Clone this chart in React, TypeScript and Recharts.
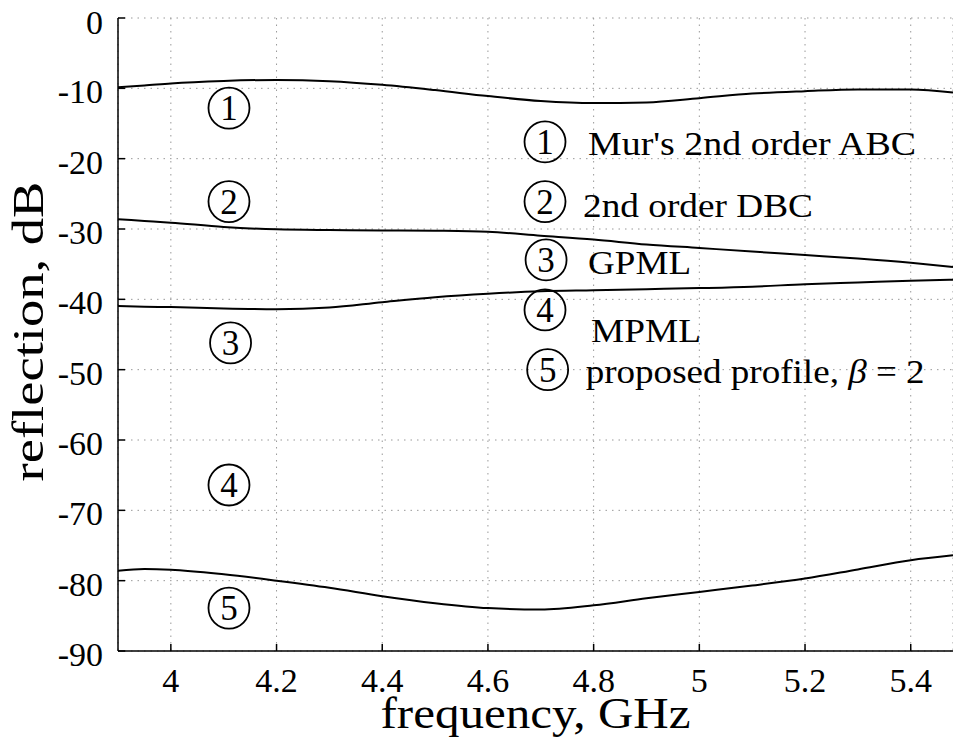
import React from 'react';
import {
  LineChart,
  Line,
  XAxis,
  YAxis,
  CartesianGrid,
  ReferenceDot,
} from 'recharts';

// Frequency samples (GHz) shared by all curves
const freqGHz = [3.9, 3.95, 4.0, 4.1, 4.2, 4.3, 4.4, 4.5, 4.6, 4.7, 4.8, 4.9, 5.0, 5.1, 5.2, 5.3, 5.4, 5.48];

// Reflection (dB) for each boundary condition
const murABC = [-9.85, -9.6, -9.3, -8.95, -8.8, -8.98, -9.5, -10.25, -11.1, -11.8, -12.1, -12.0, -11.4, -10.75, -10.4, -10.15, -10.15, -10.6];
const dbc2nd = [-28.6, -28.85, -29.1, -29.7, -30.05, -30.15, -30.2, -30.25, -30.4, -30.95, -31.5, -32.2, -32.7, -33.2, -33.7, -34.2, -34.8, -35.4];
const gpml = [-40.95, -41.05, -41.1, -41.3, -41.4, -41.15, -40.4, -39.7, -39.2, -38.85, -38.7, -38.55, -38.4, -38.2, -37.85, -37.6, -37.35, -37.2];
const proposed = [-78.6, -78.35, -78.45, -79.1, -80.0, -81.0, -82.2, -83.2, -83.9, -84.1, -83.5, -82.5, -81.6, -80.7, -79.7, -78.4, -77.1, -76.4];

// Axis ticks
const xTicks = [4, 4.2, 4.4, 4.6, 4.8, 5, 5.2, 5.4];
const yTicks = [-90, -80, -70, -60, -50, -40, -30, -20, -10, 0];

// Curve tags (circled numbers placed next to each curve), in data units
const curveTags = [
  { n: '1', f: 4.11, db: -12.8 },
  { n: '2', f: 4.11, db: -26.1 },
  { n: '3', f: 4.113, db: -46.2 },
  { n: '4', f: 4.11, db: -66.4 },
  { n: '5', f: 4.11, db: -83.9 },
];

// Key entries
const keyNumbers = ['1', '2', '3', '4', '5'];
const keyTexts = ["Mur's 2nd order ABC", '2nd order DBC', 'GPML', 'MPML', 'proposed profile, '];

// Key layout (anchor of each circle in data units, text offset and run length in px)
const keyLayout = [
  { f: 4.708, db: -17.6, dx: 43, dy: 13, len: 328 },
  { f: 4.708, db: -26.1, dx: 38, dy: 15, len: 230 },
  { f: 4.71, db: -34.4, dx: 42, dy: 14, len: 103 },
  { f: 4.708, db: -41.5, dx: 46, dy: 32, len: 110 },
  { f: 4.713, db: -50.0, dx: 38, dy: 13, len: 339 },
];

const rows = freqGHz.map((f, i) => ({
  f,
  mur: murABC[i],
  dbc: dbc2nd[i],
  gpml: gpml[i],
  prop: proposed[i],
}));

const FONT = 'Liberation Serif, DejaVu Serif, Times New Roman, serif';
const textStyle = { fontFamily: FONT };

const CircledNumber = ({ cx, cy, n }: { cx: number; cy: number; n: string }) => (
  <g>
    <circle cx={cx} cy={cy} r={20.5} fill="none" stroke="#000" strokeWidth={1.8} />
    <text
      x={cx}
      y={cy + 12}
      textAnchor="middle"
      style={textStyle}
      fontSize={35}
      fill="#000"
    >
      {n}
    </text>
  </g>
);

export default function App() {
  return (
    <div style={{ position: 'absolute', left: 0, top: 0, background: '#fff', fontFamily: FONT }}>
      <LineChart
        width={953}
        height={746}
        data={rows}
        margin={{ top: 18, right: 0, bottom: 0, left: 0 }}
        style={textStyle}
      >
        <CartesianGrid stroke="#999" strokeDasharray="1.5 5" strokeWidth={1} />
        <XAxis
          dataKey="f"
          type="number"
          domain={[3.9, 5.48]}
          ticks={xTicks}
          allowDataOverflow
          height={95}
          stroke="#000"
          strokeWidth={1.5}
          tickSize={-7}
          tickMargin={24}
          tick={{ fill: '#000', fontSize: 34, style: textStyle }}
          label={(props: any) => {
            const vb = props.viewBox || {};
            const x = (vb.x ?? 0) + (vb.width ?? 0) / 2;
            const y = (vb.y ?? 0) + (vb.height ?? 0) - 18;
            return (
              <text
                x={x}
                y={y}
                textAnchor="middle"
                style={textStyle}
                fontSize={45}
                textLength={310}
                lengthAdjust="spacingAndGlyphs"
                fill="#000"
              >
                frequency, GHz
              </text>
            );
          }}
        />
        <XAxis
          xAxisId="top"
          orientation="top"
          dataKey="f"
          type="number"
          domain={[3.9, 5.48]}
          ticks={xTicks}
          allowDataOverflow
          height={0}
          stroke="#000"
          strokeWidth={1.5}
          tickSize={-7}
          tick={false}
        />
        <YAxis
          type="number"
          domain={[-90, 0]}
          ticks={yTicks}
          width={118}
          stroke="#000"
          strokeWidth={1.5}
          tickSize={-7}
          tickMargin={22}
          tick={{ fill: '#000', fontSize: 34, dy: 3, style: textStyle }}
          label={(props: any) => {
            const vb = props.viewBox || {};
            const x = (vb.x ?? 0) + 43;
            const y = (vb.y ?? 0) + (vb.height ?? 0) / 2 - 3;
            return (
              <text
                x={x}
                y={y}
                transform={`rotate(-90, ${x}, ${y})`}
                textAnchor="middle"
                style={textStyle}
                fontSize={45}
                textLength={300}
                lengthAdjust="spacingAndGlyphs"
                fill="#000"
              >
                reflection, dB
              </text>
            );
          }}
        />
        <Line type="monotone" dataKey="mur" stroke="#000" strokeWidth={2} dot={false} isAnimationActive={false} />
        <Line type="monotone" dataKey="dbc" stroke="#000" strokeWidth={2} dot={false} isAnimationActive={false} />
        <Line type="monotone" dataKey="gpml" stroke="#000" strokeWidth={2} dot={false} isAnimationActive={false} />
        <Line type="monotone" dataKey="prop" stroke="#000" strokeWidth={2} dot={false} isAnimationActive={false} />

        {curveTags.map((t) => (
          <ReferenceDot
            key={`tag-${t.n}`}
            x={t.f}
            y={t.db}
            r={20}
            ifOverflow="visible"
            shape={(p: any) => <CircledNumber cx={p.cx} cy={p.cy} n={t.n} />}
          />
        ))}

        {keyLayout.map((k, i) => (
          <ReferenceDot
            key={`key-${i}`}
            x={k.f}
            y={k.db}
            r={20}
            ifOverflow="visible"
            shape={(p: any) => (
              <g>
                <CircledNumber cx={p.cx} cy={p.cy} n={keyNumbers[i]} />
                <text
                  x={p.cx + k.dx}
                  y={p.cy + k.dy}
                  style={textStyle}
                  fontSize={33}
                  textLength={k.len}
                  lengthAdjust="spacingAndGlyphs"
                  fill="#000"
                >
                  {keyTexts[i]}
                  {i === 4 ? (
                    <>
                      <tspan fontStyle="italic">β</tspan>
                      <tspan> = 2</tspan>
                    </>
                  ) : null}
                </text>
              </g>
            )}
          />
        ))}
      </LineChart>
    </div>
  );
}
